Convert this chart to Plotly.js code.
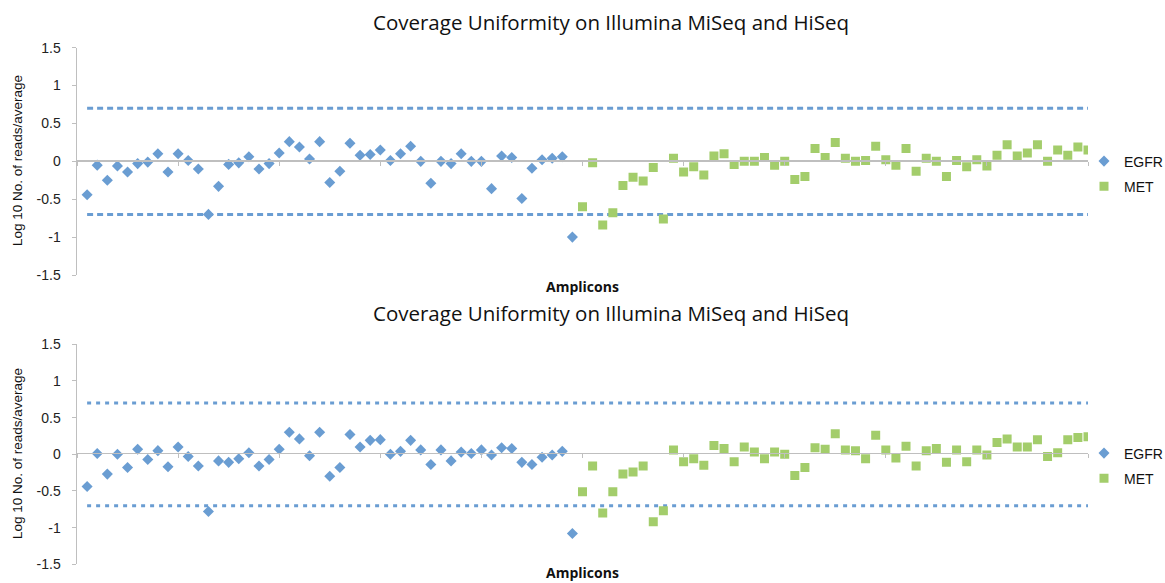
<!DOCTYPE html>
<html>
<head>
<meta charset="utf-8">
<script src="https://cdn.plot.ly/plotly-3.0.1.min.js"></script>
<style>html,body{margin:0;padding:0;background:#fff;}#chart{width:1165px;height:583px;}</style>
</head>
<body>
<div id="chart"></div>
<script>
// ---- data ----
const chartTitle = "Coverage Uniformity on Illumina MiSeq and HiSeq";
const xTitle = "Amplicons";
const yTitle = "Log 10 No. of reads/average";
const seriesNames = ["EGFR", "MET"];
const yTickVals = [1.5, 1, 0.5, 0, -0.5, -1, -1.5];
const yTickText = ["1.5", "1", "0.5", "0", "-0.5", "-1", "-1.5"];
const upperLimit = 0.7;
const lowerLimit = -0.7;

// Top chart
const egfrTop = [-0.44, -0.05, -0.25, -0.06, -0.14, -0.03, -0.01, 0.10, -0.14, 0.10,
  0.01, -0.10, -0.70, -0.33, -0.04, -0.02, 0.06, -0.10, -0.03, 0.11,
  0.26, 0.19, 0.03, 0.26, -0.28, -0.13, 0.24, 0.08, 0.09, 0.15,
  0.01, 0.10, 0.20, 0.00, -0.29, 0.00, -0.03, 0.10, 0.00, 0.00,
  -0.36, 0.07, 0.05, -0.49, -0.09, 0.02, 0.04, 0.06, -1.00];
const metTop = [-0.60, -0.02, -0.84, -0.68, -0.32, -0.21, -0.26, -0.08, -0.76, 0.04,
  -0.14, -0.07, -0.18, 0.07, 0.10, -0.04, 0.00, 0.00, 0.05, -0.05,
  0.00, -0.24, -0.20, 0.17, 0.05, 0.25, 0.04, 0.00, 0.01, 0.20,
  0.02, -0.05, 0.17, -0.13, 0.04, 0.00, -0.20, 0.01, -0.07, 0.02,
  -0.06, 0.08, 0.22, 0.07, 0.11, 0.22, 0.00, 0.15, 0.08, 0.19, 0.15];

// Bottom chart
const egfrBottom = [-0.44, 0.01, -0.27, 0.00, -0.18, 0.07, -0.07, 0.05, -0.17, 0.10,
  -0.03, -0.16, -0.78, -0.09, -0.11, -0.06, 0.02, -0.16, -0.07, 0.07,
  0.30, 0.21, -0.02, 0.30, -0.30, -0.18, 0.27, 0.10, 0.19, 0.20,
  0.00, 0.04, 0.19, 0.06, -0.14, 0.06, -0.09, 0.03, 0.01, 0.06,
  -0.01, 0.09, 0.08, -0.11, -0.14, -0.04, -0.01, 0.04, -1.08];
const metBottom = [-0.51, -0.16, -0.80, -0.51, -0.27, -0.24, -0.16, -0.92, -0.77, 0.06,
  -0.10, -0.06, -0.15, 0.12, 0.08, -0.10, 0.10, 0.03, -0.06, 0.03,
  0.00, -0.29, -0.18, 0.09, 0.07, 0.28, 0.06, 0.05, -0.06, 0.26,
  0.06, -0.05, 0.11, -0.16, 0.05, 0.08, -0.11, 0.06, -0.10, 0.06,
  -0.01, 0.16, 0.21, 0.10, 0.10, 0.20, -0.03, 0.02, 0.20, 0.23, 0.24];

// ---- styling ----
const blue = "#6A9DD2";
const green = "#A3CD6B";
const axisGray = "#BFBFBF";
const tickFont = {family: "Liberation Sans, Arial, sans-serif", size: 14, color: "#222"};

// amplicon positions follow the order of the series
const egfrX = egfrTop.map((_, i) => i + 1);
const metX = metTop.map((_, i) => egfrTop.length + i + 1);
const allX = [1, egfrTop.length + metTop.length];

function panel(egfr, met, xa, ya, leg, dash) {
  return [
    {x: allX, y: [upperLimit, upperLimit], xaxis: xa, yaxis: ya, mode: "lines", showlegend: false, hoverinfo: "skip",
     line: {color: blue, width: 3, dash: dash}},
    {x: allX, y: [lowerLimit, lowerLimit], xaxis: xa, yaxis: ya, mode: "lines", showlegend: false, hoverinfo: "skip",
     line: {color: blue, width: 3, dash: dash}},
    {x: egfrX, y: egfr, xaxis: xa, yaxis: ya, mode: "markers", name: seriesNames[0], legend: leg, legendgroup: leg + "a",
     marker: {symbol: "diamond", size: 8.5, color: blue}},
    {x: metX, y: met, xaxis: xa, yaxis: ya, mode: "markers", name: seriesNames[1], legend: leg, legendgroup: leg + "b",
     marker: {symbol: "square", size: 9, color: green}}
  ];
}

const data = [].concat(
  panel(egfrTop, metTop, "x", "y", "legend", "6px,4px"),
  panel(egfrBottom, metBottom, "x2", "y2", "legend2", "4px,5px")
);

const W = 1165, H = 583;
const px = v => v / W;
const py = v => 1 - v / H;

function xAxis(zeroPix) {
  return {domain: [px(77), px(1088)], range: [0, 100], anchor: "free", position: py(zeroPix),
    showline: true, linecolor: axisGray, linewidth: 1.5, ticks: "outside", ticklen: 4, tickcolor: axisGray,
    dtick: 10, tick0: 0, showticklabels: false, showgrid: false, zeroline: false, fixedrange: true, automargin: false};
}
function yAxis(topPix, botPix, xRef) {
  return {domain: [py(botPix), py(topPix)], range: [-1.5, 1.5], anchor: xRef,
    showline: true, linecolor: axisGray, linewidth: 1.5, ticks: "outside", ticklen: 4, tickcolor: axisGray,
    tickvals: yTickVals, ticktext: yTickText, tickfont: tickFont, ticklabelstandoff: 8,
    showgrid: false, zeroline: false, fixedrange: true, automargin: false};
}

const titleFont = {family: "Open Sans, sans-serif", size: 20.5, color: "#111"};
const xTitleFont = {family: "Open Sans, sans-serif", size: 14, color: "#111", weight: "bold"};
const yTitleFont = {family: "Liberation Sans, Arial, sans-serif", size: 13.5, color: "#111"};
const legendFont = {family: "Liberation Sans, Arial, sans-serif", size: 14, color: "#111"};

const layout = {
  width: W, height: H,
  margin: {l: 0, r: 0, t: 0, b: 0, autoexpand: false},
  paper_bgcolor: "#fff", plot_bgcolor: "rgba(0,0,0,0)",
  xaxis: xAxis(160),
  yaxis: yAxis(47.7, 275, "x"),
  xaxis2: xAxis(452.7),
  yaxis2: yAxis(344.3, 564.3, "x2"),
  legend: {xref: "container", yref: "container", x: px(1084), y: py(174), xanchor: "left", yanchor: "middle",
    font: legendFont, tracegroupgap: 4, bgcolor: "rgba(0,0,0,0)"},
  legend2: {xref: "container", yref: "container", x: px(1084), y: py(466), xanchor: "left", yanchor: "middle",
    font: legendFont, tracegroupgap: 4, bgcolor: "rgba(0,0,0,0)"},
  annotations: [
    {text: chartTitle, xref: "paper", yref: "paper", x: px(611), y: py(22), showarrow: false, font: titleFont, xanchor: "center", yanchor: "middle"},
    {text: chartTitle, xref: "paper", yref: "paper", x: px(611), y: py(313), showarrow: false, font: titleFont, xanchor: "center", yanchor: "middle"},
    {text: xTitle, xref: "paper", yref: "paper", x: px(582), y: py(286), showarrow: false, font: xTitleFont, xanchor: "center", yanchor: "middle"},
    {text: xTitle, xref: "paper", yref: "paper", x: px(582), y: py(572), showarrow: false, font: xTitleFont, xanchor: "center", yanchor: "middle"},
    {text: yTitle, xref: "paper", yref: "paper", x: px(17), y: py(161), showarrow: false, font: yTitleFont, textangle: -90, xanchor: "center", yanchor: "middle"},
    {text: yTitle, xref: "paper", yref: "paper", x: px(17), y: py(454), showarrow: false, font: yTitleFont, textangle: -90, xanchor: "center", yanchor: "middle"}
  ]
};

Plotly.newPlot("chart", data, layout, {displayModeBar: false, staticPlot: true});
</script>
</body>
</html>
